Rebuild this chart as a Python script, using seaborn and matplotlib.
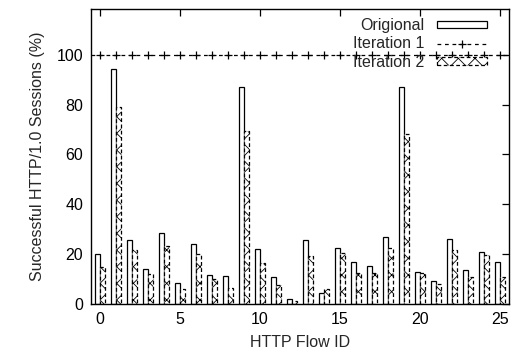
import numpy as np
import pandas as pd
import matplotlib
matplotlib.use("Agg")
import matplotlib.pyplot as plt
import seaborn as sns
from matplotlib.patches import Patch
from matplotlib.lines import Line2D

flows = list(range(26))
origional = [19.8, 94.2, 25.4, 13.9, 28.4, 8.4, 23.9, 11.6, 10.9, 87.0,
             21.8, 10.5, 1.7, 25.4, 4.2, 22.3, 16.7, 15.1, 26.9, 87.0,
             12.9, 9.2, 25.8, 13.4, 20.9, 16.7]
iteration1 = [100] * 26
iteration2 = [14.8, 79.0, 21.4, 11.9, 23.1, 5.7, 19.8, 9.9, 6.4, 69.4,
              16.2, 7.3, 1.0, 19.2, 5.7, 20.5, 12.1, 12.4, 22.3, 68.2,
              12.1, 7.8, 21.5, 10.5, 19.4, 10.8]
series_names = ["Origional", "Iteration 1", "Iteration 2"]
xticks = [0, 5, 10, 15, 20, 25]
yticks = [0, 20, 40, 60, 80, 100]

sns.set_theme(style="white")
plt.rcParams["font.family"] = ["Liberation Sans", "DejaVu Sans"]
plt.rcParams["hatch.linewidth"] = 0.6
plt.rcParams["hatch.color"] = "black"

fig = plt.figure(figsize=(5.11, 3.58), dpi=100)
ax = fig.add_axes([0.179, 0.152, 0.817, 0.823])

df = pd.DataFrame({
    "flow": flows * 2,
    "value": origional + iteration2,
    "series": [series_names[0]] * 26 + [series_names[2]] * 26,
})
sns.barplot(data=df, x="flow", y="value", hue="series",
            hue_order=[series_names[0], series_names[2]],
            palette=["white", "white"], native_scale=True, width=0.64,
            dodge=True, legend=False, edgecolor="black", linewidth=0.9,
            saturation=1, ax=ax, errorbar=None)

for bar in ax.containers[1]:
    bar.set_linestyle((0, (3, 2)))
    bar.set_hatch("xx")

l1 = pd.DataFrame({"flow": flows, "value": iteration1})
ax.axhline(iteration1[0], color="black", lw=0.9, ls=(0, (3, 3)))
sns.lineplot(data=l1, x="flow", y="value", ax=ax, color="black", lw=0,
             marker="+", markersize=5.5, markeredgewidth=0.9,
             markeredgecolor="black")

ax.set_xlim(-0.53, 25.55)
ax.set_ylim(0, 118.5)
ax.set_xticks(xticks)
ax.set_yticks(yticks)
ax.tick_params(direction="in", length=5, width=0.9, top=True, right=True,
               labelsize=11.5, colors="black", pad=6)
for s in ax.spines.values():
    s.set_color("black")
    s.set_linewidth(1.0)
ax.set_xlabel("HTTP Flow ID", fontsize=11.5, labelpad=6)
ax.set_ylabel("Successful HTTP/1.0 Sessions (%)", fontsize=11.5, labelpad=8)

handles = [
    Patch(facecolor="white", edgecolor="black", lw=0.9),
    Line2D([0], [0], color="black", lw=0.9, ls=(0, (3, 3)), marker="+",
           markersize=5.5, markeredgewidth=0.9, markeredgecolor="black"),
    Patch(facecolor="white", edgecolor="black", lw=0.9, ls=(0, (3, 2)), hatch="xx"),
]
leg = ax.legend(handles, series_names, loc="upper right", frameon=False,
                markerfirst=False, fontsize=11.5, handlelength=3.1,
                handleheight=0.35, labelspacing=0.2, handletextpad=0.8,
                borderaxespad=0.3, numpoints=1,
                bbox_to_anchor=(1 - 11 / 417.5, 1 + 2 / 294.6))
for col in leg._legend_handle_box.get_children():
    col.align = "right"

fig.savefig("out.png", dpi=100)
